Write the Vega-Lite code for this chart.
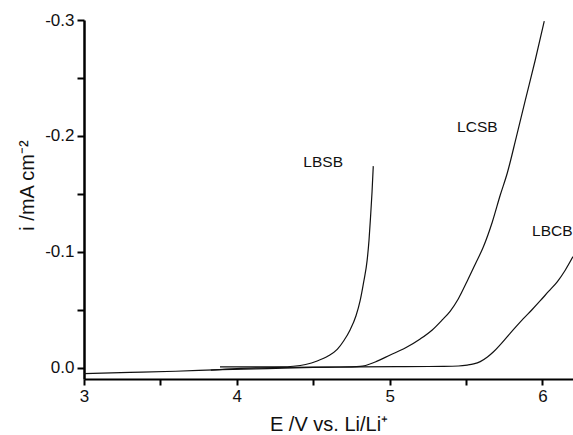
{
  "$schema": "https://vega.github.io/schema/vega-lite/v6.json",
  "width": 489,
  "height": 359,
  "autosize": {"type": "none"},
  "padding": {"left": 84, "top": 20, "right": 0, "bottom": 56},
  "background": "white",
  "config": {
    "view": {"stroke": null},
    "font": "Liberation Sans"
  },
  "datasets": {
    "curves": [
      {"s": "LBCB", "E": 3.0, "i": 0.0048},
      {"s": "LBCB", "E": 3.3, "i": 0.0038},
      {"s": "LBCB", "E": 3.6, "i": 0.0028},
      {"s": "LBCB", "E": 3.9, "i": 0.0015},
      {"s": "LBCB", "E": 4.2, "i": 0.0005},
      {"s": "LBCB", "E": 4.5, "i": -0.0005},
      {"s": "LBCB", "E": 4.8, "i": -0.001},
      {"s": "LBCB", "E": 5.1, "i": -0.0012},
      {"s": "LBCB", "E": 5.35, "i": -0.0014},
      {"s": "LBCB", "E": 5.45, "i": -0.0017},
      {"s": "LBCB", "E": 5.508, "i": -0.0025},
      {"s": "LBCB", "E": 5.55, "i": -0.0035},
      {"s": "LBCB", "E": 5.593, "i": -0.0055},
      {"s": "LBCB", "E": 5.64, "i": -0.0095},
      {"s": "LBCB", "E": 5.68, "i": -0.014},
      {"s": "LBCB", "E": 5.72, "i": -0.0195},
      {"s": "LBCB", "E": 5.77, "i": -0.027},
      {"s": "LBCB", "E": 5.82, "i": -0.0345},
      {"s": "LBCB", "E": 5.875, "i": -0.0425},
      {"s": "LBCB", "E": 5.93, "i": -0.05},
      {"s": "LBCB", "E": 5.986, "i": -0.058},
      {"s": "LBCB", "E": 6.04, "i": -0.066},
      {"s": "LBCB", "E": 6.098, "i": -0.0745},
      {"s": "LBCB", "E": 6.15, "i": -0.0845},
      {"s": "LBCB", "E": 6.2, "i": -0.096},
      {"s": "LCSB", "E": 3.83, "i": 0.0018},
      {"s": "LCSB", "E": 4.0, "i": 0.0005},
      {"s": "LCSB", "E": 4.3, "i": -0.0005},
      {"s": "LCSB", "E": 4.6, "i": -0.0008},
      {"s": "LCSB", "E": 4.75, "i": -0.001},
      {"s": "LCSB", "E": 4.807, "i": -0.0013},
      {"s": "LCSB", "E": 4.906, "i": -0.0052},
      {"s": "LCSB", "E": 5.004, "i": -0.0112},
      {"s": "LCSB", "E": 5.102, "i": -0.0172},
      {"s": "LCSB", "E": 5.2, "i": -0.025},
      {"s": "LCSB", "E": 5.279, "i": -0.0328},
      {"s": "LCSB", "E": 5.344, "i": -0.0414},
      {"s": "LCSB", "E": 5.397, "i": -0.0491},
      {"s": "LCSB", "E": 5.449, "i": -0.0595},
      {"s": "LCSB", "E": 5.508, "i": -0.075},
      {"s": "LCSB", "E": 5.561, "i": -0.0897},
      {"s": "LCSB", "E": 5.613, "i": -0.1043},
      {"s": "LCSB", "E": 5.672, "i": -0.1259},
      {"s": "LCSB", "E": 5.724, "i": -0.1491},
      {"s": "LCSB", "E": 5.77, "i": -0.1681},
      {"s": "LCSB", "E": 5.829, "i": -0.1991},
      {"s": "LCSB", "E": 5.888, "i": -0.231},
      {"s": "LCSB", "E": 5.953, "i": -0.2655},
      {"s": "LCSB", "E": 6.012, "i": -0.2991},
      {"s": "LBSB", "E": 3.89, "i": -0.001},
      {"s": "LBSB", "E": 4.1, "i": -0.001},
      {"s": "LBSB", "E": 4.3, "i": -0.001},
      {"s": "LBSB", "E": 4.369, "i": -0.0015},
      {"s": "LBSB", "E": 4.45, "i": -0.003},
      {"s": "LBSB", "E": 4.526, "i": -0.006},
      {"s": "LBSB", "E": 4.6, "i": -0.0105},
      {"s": "LBSB", "E": 4.657, "i": -0.016},
      {"s": "LBSB", "E": 4.7, "i": -0.0235},
      {"s": "LBSB", "E": 4.742, "i": -0.033},
      {"s": "LBSB", "E": 4.78, "i": -0.045},
      {"s": "LBSB", "E": 4.807, "i": -0.058},
      {"s": "LBSB", "E": 4.83, "i": -0.074},
      {"s": "LBSB", "E": 4.853, "i": -0.093},
      {"s": "LBSB", "E": 4.865, "i": -0.11},
      {"s": "LBSB", "E": 4.875, "i": -0.13},
      {"s": "LBSB", "E": 4.885, "i": -0.152},
      {"s": "LBSB", "E": 4.893, "i": -0.174}
    ],
    "labels": [
      {"name": "LBSB", "E": 4.565, "i": -0.178},
      {"name": "LCSB", "E": 5.574, "i": -0.2078},
      {"name": "LBCB", "E": 6.065, "i": -0.118}
    ]
  },
  "layer": [
    {
      "data": {"name": "curves"},
      "mark": {"type": "line", "color": "#111111", "strokeWidth": 1.2, "interpolate": "monotone"},
      "encoding": {
        "x": {
          "field": "E", "type": "quantitative",
          "scale": {"domain": [3, 6.2], "nice": false, "zero": false},
          "axis": {
            "values": [3, 3.5, 4, 4.5, 5, 5.5, 6],
            "labelExpr": "datum.value % 1 == 0 ? format(datum.value, 'd') : ''",
            "tickSize": 6,
            "tickWidth": 2,
            "tickColor": "black",
            "title": "E /V vs. Li/Li⁺",
            "grid": false,
            "domainWidth": 2,
            "domainColor": "black",
            "labelFontSize": 17,
            "labelColor": "#111111",
            "labelPadding": 3,
            "labelFlush": false,
            "titleFontSize": 20,
            "titleFontWeight": "normal",
            "titleColor": "#111111",
            "titlePadding": 10
          }
        },
        "y": {
          "field": "i", "type": "quantitative",
          "scale": {"domain": [-0.3, 0.0095], "reverse": true, "nice": false, "zero": false},
          "axis": {
            "values": [-0.3, -0.25, -0.2, -0.15, -0.1, -0.05, 0],
            "labelExpr": "datum.value == 0 ? '0.0' : (abs(round(datum.value * 100)) % 10 == 0 ? '-' + format(abs(datum.value), '.1f') : '')",
            "tickSize": 7,
            "tickWidth": 2,
            "tickColor": "black",
            "title": "i  /mA cm⁻²",
            "grid": false,
            "domainWidth": 2.5,
            "domainColor": "black",
            "labelFontSize": 17,
            "labelColor": "#111111",
            "labelPadding": 3,
            "labelFlush": false,
            "titleFontSize": 20,
            "titleFontWeight": "normal",
            "titleColor": "#111111",
            "titleX": -51,
            "titleY": 165,
            "titleBaseline": "alphabetic",
            "titleAngle": -90,
            "titleAlign": "center"
          }
        },
        "detail": {"field": "s", "type": "nominal"}
      }
    },
    {
      "data": {"name": "labels"},
      "mark": {"type": "text", "fontSize": 15.5, "color": "#111111", "align": "center", "baseline": "middle"},
      "encoding": {
        "x": {"field": "E", "type": "quantitative"},
        "y": {"field": "i", "type": "quantitative"},
        "text": {"field": "name", "type": "nominal"}
      }
    }
  ]
}
